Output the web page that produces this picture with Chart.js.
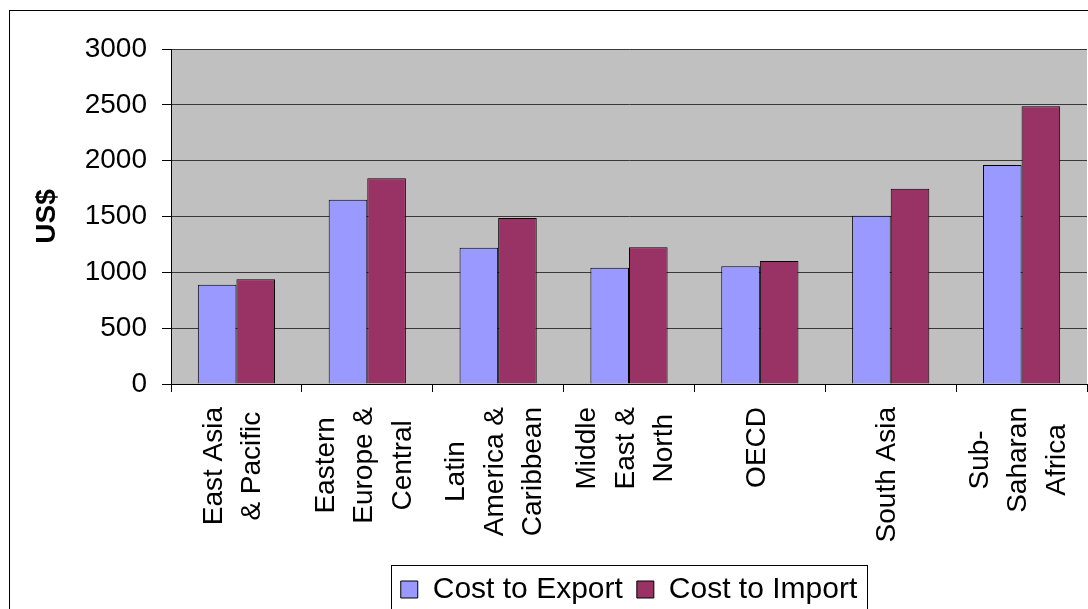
<!DOCTYPE html>
<html>
<head>
<meta charset="utf-8">
<script src="https://cdn.jsdelivr.net/npm/chart.js@4/dist/chart.umd.min.js"></script>
<style>
  html, body { margin: 0; padding: 0; background: #ffffff; overflow: hidden; }
  #wrap { width: 1088px; height: 609px; position: relative; }
</style>
</head>
<body>
<div id="wrap"><canvas id="c" width="1088" height="609"></canvas></div>
<script>
// ---- data ----
const categories = [
  ["East Asia", "& Pacific"],
  ["Eastern", "Europe &", "Central"],
  ["Latin", "America &", "Caribbean"],
  ["Middle", "East &", "North"],
  ["OECD"],
  ["South Asia"],
  ["Sub-", "Saharan", "Africa"]
];
const costToExport = [889, 1651, 1221, 1042, 1054, 1507, 1961];
const costToImport = [937, 1842, 1487, 1224, 1101, 1749, 2487];
const seriesNames = ["Cost to Export", "Cost to Import"];
const yTicks = [0, 500, 1000, 1500, 2000, 2500, 3000];
const yTitle = "US$";

const FONT = '"Liberation Sans", Arial, Helvetica, sans-serif';
Chart.defaults.font.family = FONT;
Chart.defaults.color = '#000000';

const decor = {
  id: 'decor',
  afterLayout(chart) {
    const lg = chart.legend;
    if (lg) {
      lg.left = chart.chartArea.left;
      lg.right = chart.chartArea.right;
      lg.top += 5.5;
      lg.bottom += 5.5;
    }
  },
  beforeDraw(chart) {
    const ctx = chart.ctx, a = chart.chartArea;
    ctx.save();
    ctx.fillStyle = '#C0C0C0';
    ctx.fillRect(a.left, a.top, a.right - a.left, a.bottom - a.top);
    ctx.strokeStyle = '#000000';
    ctx.lineWidth = 1;
    ctx.strokeRect(9.5, 10.5, 3000, 3000);
    ctx.restore();
  },
  afterDraw(chart) {
    const ctx = chart.ctx;
    const xs = chart.scales.x;
    ctx.save();
    ctx.font = '28px ' + FONT;
    ctx.fillStyle = '#000000';
    ctx.textAlign = 'center';
    ctx.textBaseline = 'middle';
    const lineGap = 38.5;
    categories.forEach((lines, i) => {
      const cx = xs.getPixelForValue(i) - 3;
      const w = Math.max(...lines.map(l => ctx.measureText(l).width));
      const cy = xs.top + 23 + w / 2;
      lines.forEach((ln, j) => {
        ctx.save();
        ctx.translate(cx + (j - (lines.length - 1) / 2) * lineGap, cy);
        ctx.rotate(-Math.PI / 2);
        ctx.fillText(ln, 0, 0);
        ctx.restore();
      });
    });
    // legend frame
    const lg = chart.legend;
    if (lg && lg.legendHitBoxes && lg.legendHitBoxes.length) {
      const hb = lg.legendHitBoxes;
      const l = Math.round(hb[0].left) - 10;
      const last = hb[hb.length - 1];
      const r = Math.round(last.left + last.width) + 10;
      const t = Math.round(hb[0].top) - 10;
      ctx.strokeStyle = '#000000';
      ctx.lineWidth = 1;
      ctx.strokeRect(l + 0.5, t + 0.5, r - l, 200);
    }
    ctx.restore();
  }
};

new Chart(document.getElementById('c'), {
  type: 'bar',
  data: {
    labels: categories,
    datasets: [
      { label: seriesNames[0], data: costToExport, backgroundColor: '#9999FF', borderColor: '#000000', borderWidth: 1 },
      { label: seriesNames[1], data: costToImport, backgroundColor: '#993366', borderColor: '#000000', borderWidth: 1 }
    ]
  },
  options: {
    responsive: false,
    animation: false,
    events: [],
    layout: { padding: { left: 10, top: 49, right: 1, bottom: 0 } },
    datasets: { bar: { categoryPercentage: 0.59, barPercentage: 1.0 } },
    plugins: {
      tooltip: { enabled: false },
      legend: {
        position: 'bottom',
        labels: {
          font: { size: 30 },
          color: '#000000',
          boxWidth: 17,
          boxHeight: 17,
          padding: 14
        }
      }
    },
    scales: {
      x: {
        offset: true,
        grid: { display: true, drawOnChartArea: false, drawTicks: true, tickLength: 8, color: '#000000', offset: true },
        border: { display: true, color: '#000000', width: 1 },
        ticks: { display: false },
        afterFit(scale) { scale.height = 171; }
      },
      y: {
        min: 0,
        max: 3000,
        afterBuildTicks(scale) { scale.ticks = yTicks.map(v => ({ value: v })); },
        grid: { color: '#383838', lineWidth: 1, tickLength: 9, tickColor: '#000000' },
        border: { display: true, color: '#000000', width: 1 },
        ticks: { font: { size: 28 }, color: '#000000', padding: 15, callback: (v) => String(v) },
        title: { display: true, text: yTitle, font: { size: 28, weight: 'bold' }, color: '#000000', padding: { top: 20, bottom: 0 } },
        afterFit(scale) { scale.width = 161; }
      }
    }
  },
  plugins: [decor]
});
</script>
</body>
</html>
